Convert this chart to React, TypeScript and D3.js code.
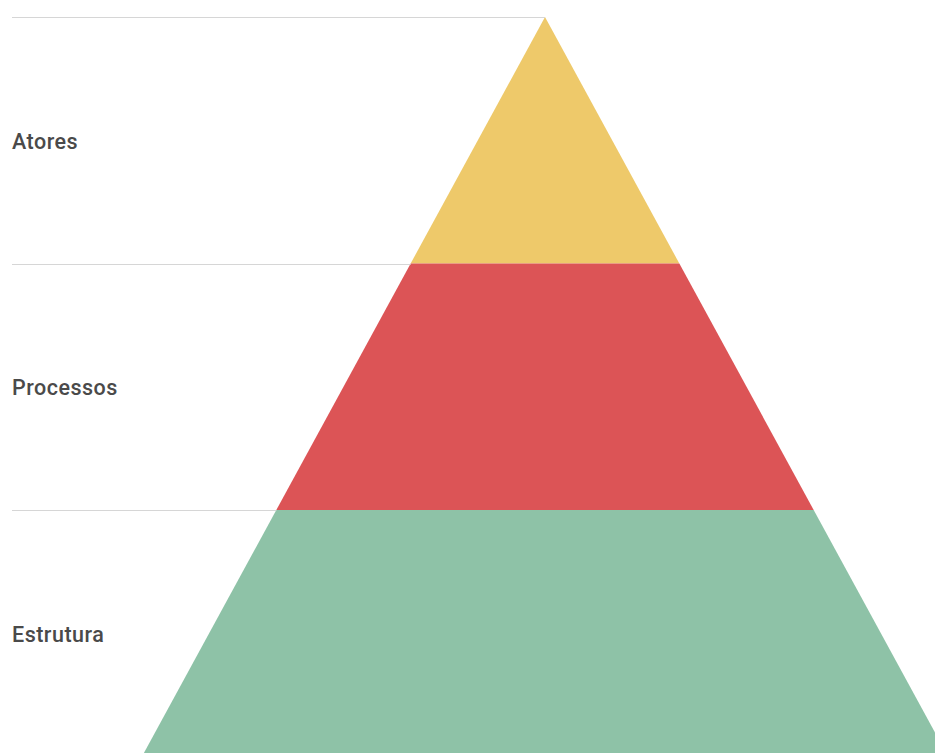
import React from "react";
import * as d3 from "d3";

const categories = ["Atores", "Processos", "Estrutura"];
const values = [1, 1, 1];
const colors = ["#EEC96A", "#DC5456", "#8EC2A7"];

const W = 935;
const H = 753;

export default function App() {
  const top = 17;
  const bottom = 756.5;
  const apexX = 545;
  const slope = 0.545;
  const total = d3.sum(values);
  const y = d3.scaleLinear().domain([0, total]).range([top, bottom]);
  const halfW = (yy: number) => (yy - top) * slope;
  const cum = d3.cumsum(values);
  const bands = categories.map((c, i) => {
    const y0 = y(i === 0 ? 0 : cum[i - 1]);
    const y1 = y(cum[i]);
    return { c, i, y0, y1 };
  });
  return (
    <svg
      width={W}
      height={H}
      style={{ position: "absolute", left: 0, top: 0, background: "#fff" }}
    >
      {bands.map((b) => {
        const path = d3.path();
        path.moveTo(apexX - halfW(b.y0), b.y0);
        path.lineTo(apexX + halfW(b.y0), b.y0);
        path.lineTo(apexX + halfW(b.y1), b.y1);
        path.lineTo(apexX - halfW(b.y1), b.y1);
        path.closePath();
        return <path key={b.c} d={path.toString()} fill={colors[b.i]} />;
      })}
      {bands.map((b) => (
        <line
          key={"l" + b.c}
          x1={12}
          x2={apexX - halfW(b.y0)}
          y1={Math.round(b.y0) + 0.5}
          y2={Math.round(b.y0) + 0.5}
          stroke="#d6d6d6"
          strokeWidth={1}
        />
      ))}
      {bands.map((b) => (
        <text
          key={"t" + b.c}
          x={12}
          y={(b.y0 + b.y1) / 2 + 8.5}
          fontFamily="Roboto"
          fontWeight={500}
          fontSize={21.5}
          letterSpacing={0.5}
          fill="#4a4a4a"
        >
          {b.c}
        </text>
      ))}
    </svg>
  );
}
